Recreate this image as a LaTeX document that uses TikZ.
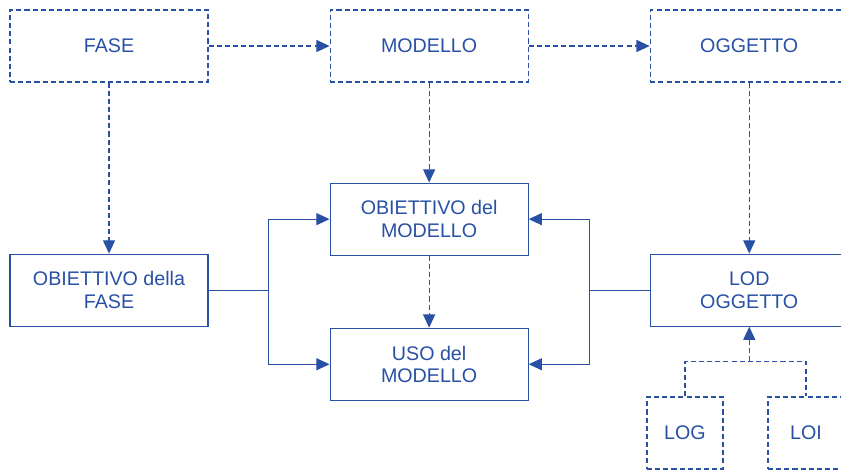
\documentclass[tikz,border=0pt]{standalone}
\usepackage{fontspec}
\setmainfont{Liberation Sans}
\usetikzlibrary{arrows.meta,positioning,calc}
\definecolor{diagblue}{RGB}{40,80,165}

\begin{document}
\begin{tikzpicture}[
    box/.style={draw=diagblue, line width=0.8pt, minimum width=4.95cm, minimum height=1.8cm, inner sep=0pt, align=center, text=diagblue, font=\fontsize{14}{16}\selectfont},
    dashbox/.style={box, dash pattern=on 3.6pt off 2.2pt},
    smallbox/.style={dashbox, minimum width=1.9cm},
    link/.style={draw=diagblue, line width=0.8pt},
    arrow/.style={link, -{Triangle[length=3.3mm, width=3mm]}},
    dasharrow/.style={arrow, dash pattern=on 3.6pt off 2.2pt},
    dashline/.style={link, dash pattern=on 3.6pt off 2.2pt},
    node distance=3.025cm
]
    \useasboundingbox (0,0) rectangle (21.025,-11.725);
    \clip (0,0) rectangle (21.025,-11.725);

    % Top row
    \node[dashbox] (fase) at (2.725,-1.15) {FASE};
    \node[dashbox, right=of fase] (modello) {MODELLO};
    \node[dashbox, right=of modello] (oggetto) {OGGETTO};

    % Middle blocks
    \node[box, below=4.275cm of fase] (obfase) {OBIETTIVO della\\FASE};
    \node[box, below=2.5cm of modello] (obmod) {OBIETTIVO del\\MODELLO};
    \node[box, below=1.8cm of obmod] (uso) {USO del\\MODELLO};
    \node[box, below=4.275cm of oggetto] (lod) {LOD\\OGGETTO};

    % Bottom blocks
    \node[smallbox] (log) at (17.125,-10.825) {LOG};
    \node[smallbox] (loi) at (20.15,-10.825) {LOI};

    % Dashed links
    \draw[dasharrow] (fase) -- (modello);
    \draw[dasharrow] (modello) -- (oggetto);
    \draw[dasharrow] (fase) -- (obfase);
    \draw[dasharrow] (modello) -- (obmod);
    \draw[dasharrow] (oggetto) -- (lod);
    \draw[dasharrow] (obmod) -- (uso);

    % Solid brackets
    \coordinate (jl) at ($(obfase.east)+(1.5,0)$);
    \coordinate (jr) at ($(lod.west)+(-1.5,0)$);
    \draw[link] (obfase.east) -- (jl);
    \draw[arrow] (jl) |- (obmod.west);
    \draw[arrow] (jl) |- (uso.west);
    \draw[link] (lod.west) -- (jr);
    \draw[arrow] (jr) |- (obmod.east);
    \draw[arrow] (jr) |- (uso.east);

    % LOG / LOI into LOD
    \coordinate (jb) at ($(log.north)+(0,0.875)$);
    \draw[dashline] (log.north) -- (jb) -| (loi.north);
    \draw[dasharrow] (jb -| lod.south) -- (lod.south);
\end{tikzpicture}
\end{document}
